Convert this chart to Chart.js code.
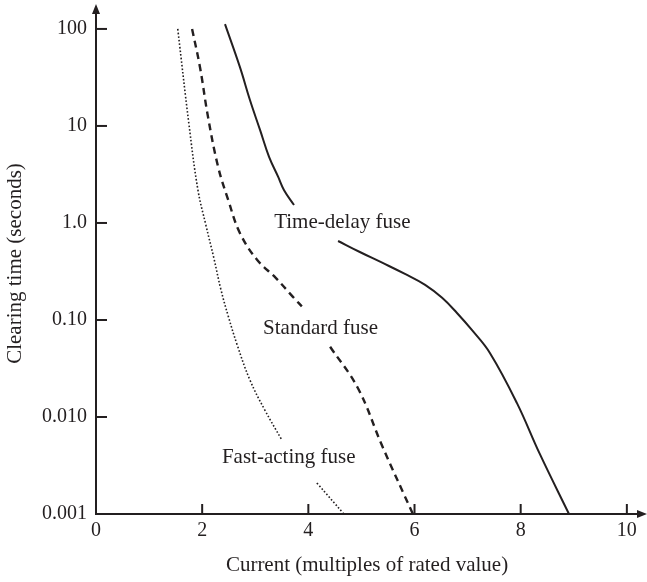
<!DOCTYPE html>
<html>
<head>
<meta charset="utf-8">
<script src="https://cdn.jsdelivr.net/npm/chart.js@4.4.1/dist/chart.umd.min.js"></script>
<style>
  body { margin: 0; background: #fff; }
  canvas { display: block; }
</style>
</head>
<body>
<canvas id="fuseChart" width="647" height="582"></canvas>
<script>
// curves, null marks the break where the label sits
const timeDelayX = [2.43, 2.71, 2.90, 3.09, 3.26, 3.43, 3.54, 3.73, null, 4.56, 4.97, 5.40, 5.82, 6.20, 6.52, 6.80, 7.08, 7.42, 7.93, 8.36, 8.91];
const timeDelayY = [112, 40.6, 18.5, 9.1, 4.8, 3.0, 2.19, 1.53, null, 0.652, 0.502, 0.387, 0.298, 0.230, 0.169, 0.118, 0.0789, 0.0457, 0.0139, 0.00416, 0.001];

const standardX = [1.81, 1.96, 2.11, 2.30, 2.49, 2.71, 3.03, 3.39, 3.71, 3.94, null, 4.41, 4.93, 5.40, 5.97];
const standardY = [100, 40, 12.4, 3.8, 1.73, 0.79, 0.42, 0.27, 0.173, 0.127, null, 0.053, 0.020, 0.0049, 0.001];

const fastX = [1.54, 1.75, 1.92, 2.07, 2.22, 2.35, 2.49, 2.66, 2.90, 3.18, 3.50, null, 4.16, 4.67];
const fastY = [100, 10.5, 2.19, 0.95, 0.435, 0.209, 0.110, 0.0552, 0.024, 0.0118, 0.0058, null, 0.00209, 0.001];

const xTicks = [0, 2, 4, 6, 8, 10];
const yTicks = [0.001, 0.01, 0.1, 1, 10, 100];
const yTickLabels = ["0.001", "0.010", "0.10", "1.0", "10", "100"];

// curve names and where they sit (data units)
const curveNames = ["Time-delay fuse", "Standard fuse", "Fast-acting fuse"];
const nameX = [4.64, 4.23, 3.63];
const nameY = [1.0, 0.081, 0.00387];

const ink = "#231f20";
const serif = "'Liberation Serif', 'DejaVu Serif', serif";

function toPoints(xs, ys) {
  return xs.map((x, i) => ({ x: x === null ? (xs[i - 1] + xs[i + 1]) / 2 : x, y: ys[i] }));
}

// tick marks pointing inward, arrow heads, curve names
const decorations = {
  id: "decorations",
  afterDraw(chart) {
    const { ctx, chartArea, scales } = chart;
    const xs = scales.x, ys = scales.y;
    ctx.save();
    ctx.strokeStyle = ink;
    ctx.fillStyle = ink;
    ctx.lineWidth = 2;

    xTicks.forEach((v) => {
      const px = xs.getPixelForValue(v);
      ctx.beginPath();
      ctx.moveTo(px, chartArea.bottom);
      ctx.lineTo(px, chartArea.bottom - 10);
      ctx.stroke();
    });
    yTicks.forEach((v) => {
      const py = ys.getPixelForValue(v);
      ctx.beginPath();
      ctx.moveTo(chartArea.left, py);
      ctx.lineTo(chartArea.left + 11, py);
      ctx.stroke();
    });

    // arrows
    ctx.beginPath();
    ctx.moveTo(chartArea.left, chartArea.top - 9);
    ctx.lineTo(chartArea.left - 4, chartArea.top + 1);
    ctx.lineTo(chartArea.left + 4, chartArea.top + 1);
    ctx.closePath();
    ctx.fill();
    ctx.beginPath();
    ctx.moveTo(chartArea.right + 9, chartArea.bottom);
    ctx.lineTo(chartArea.right - 1, chartArea.bottom - 4);
    ctx.lineTo(chartArea.right - 1, chartArea.bottom + 4);
    ctx.closePath();
    ctx.fill();

    ctx.font = "21px " + serif;
    ctx.textAlign = "center";
    ctx.textBaseline = "middle";
    curveNames.forEach((name, i) => {
      ctx.fillText(name, xs.getPixelForValue(nameX[i]), ys.getPixelForValue(nameY[i]));
    });
    ctx.restore();
  }
};

new Chart(document.getElementById("fuseChart"), {
  type: "line",
  data: {
    datasets: [
      {
        label: curveNames[0],
        data: toPoints(timeDelayX, timeDelayY),
        borderColor: ink,
        borderWidth: 2,
      },
      {
        label: curveNames[1],
        data: toPoints(standardX, standardY),
        borderColor: ink,
        borderWidth: 2.4,
        borderDash: [7, 5],
      },
      {
        label: curveNames[2],
        data: toPoints(fastX, fastY),
        borderColor: ink,
        borderWidth: 1.6,
        borderDash: [1.6, 2],
      },
    ],
  },
  options: {
    responsive: false,
    devicePixelRatio: 1,
    animation: false,
    spanGaps: false,
    elements: {
      point: { radius: 0 },
      line: { tension: 0.4, fill: false },
    },
    layout: { padding: { top: 13, right: 9, left: 0, bottom: 0 } },
    plugins: { legend: { display: false }, tooltip: { enabled: false } },
    scales: {
      x: {
        type: "linear",
        min: 0,
        max: 10.21,
        afterBuildTicks: (s) => { s.ticks = xTicks.map((v) => ({ value: v })); },
        afterFit: (s) => {
          s.height = 68;
          s.paddingLeft = 0; s.paddingRight = 0;
        },
        grid: { display: false, drawTicks: false },
        border: { display: true, color: ink, width: 2 },
        ticks: { color: ink, font: { family: serif, size: 20 }, padding: 5, maxRotation: 0 },
        title: {
          display: true,
          text: "Current (multiples of rated value)",
          color: ink,
          font: { family: serif, size: 21 },
          padding: { top: 0, bottom: 4 },
        },
      },
      y: {
        type: "logarithmic",
        min: 0.001,
        max: 146,
        afterBuildTicks: (s) => { s.ticks = yTicks.map((v) => ({ value: v })); },
        afterFit: (s) => {
          s.width = 96;
          s.paddingTop = 0; s.paddingBottom = 0;
        },
        grid: { display: false, drawTicks: false },
        border: { display: true, color: ink, width: 2 },
        ticks: {
          color: ink,
          font: { family: serif, size: 20 },
          padding: 9,
          callback: (v) => yTickLabels[yTicks.indexOf(v)],
        },
        title: {
          display: true,
          text: "Clearing time (seconds)",
          color: ink,
          font: { family: serif, size: 21 },
          padding: { top: 3, bottom: 0 },
        },
      },
    },
  },
  plugins: [decorations],
});
</script>
</body>
</html>
